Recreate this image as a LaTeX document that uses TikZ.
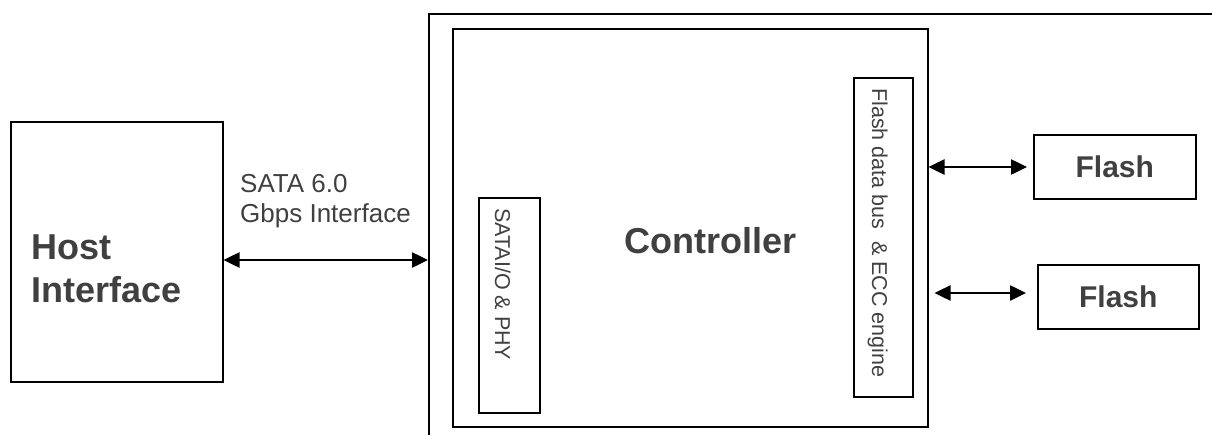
\documentclass[tikz,border=0pt]{standalone}
\usepackage{fontspec}
\setmainfont{Liberation Sans}
\usetikzlibrary{arrows.meta}
\definecolor{txtgray}{RGB}{64,64,64}
\tikzset{
  box/.style={draw=black, line width=1.5pt, rectangle, inner sep=0pt, anchor=north west},
  bigtxt/.style={text=txtgray, font=\fontsize{36}{43}\selectfont\bfseries, inner sep=0pt},
  flashtxt/.style={text=txtgray, font=\fontsize{30}{36}\selectfont\bfseries, inner sep=0pt},
  vtxt/.style={text=txtgray, font=\fontsize{21.5}{26}\selectfont, inner sep=0pt, rotate=-90, anchor=base west},
  lbltxt/.style={text=txtgray, font=\fontsize{26}{30}\selectfont, inner sep=0pt, align=left},
  arr/.style={line width=2.5pt, {Triangle[length=16pt,width=15pt]}-{Triangle[length=16pt,width=15pt]}}
}
\begin{document}
\begin{tikzpicture}[x=1pt,y=-1pt]
\useasboundingbox (0,0) rectangle (1212,434);
% outer enclosure (cut by the page)
\node[box, line width=2pt, minimum width=802pt, minimum height=440pt] (outer) at (428,13) {};
% controller
\node[box, minimum width=475pt, minimum height=398pt] (ctrl) at (452,28) {};
\node[bigtxt, anchor=base] (ctrltxt) at (710.5,253) {Controller};
% SATA I/O box
\node[box, minimum width=61pt, minimum height=215pt] (sataio) at (478,197) {};
\node[vtxt] (sataiotxt) at (495,208) {SATAI/O \& PHY};
% Flash bus box
\node[box, minimum width=59pt, minimum height=319pt] (fbus) at (853,77) {};
\node[vtxt] (fbustxt) at (872,88) {Flash data bus\ \ \& ECC engine};
% host
\node[box, minimum width=212pt, minimum height=260pt] (host) at (10,121) {};
\node[bigtxt, anchor=base west, align=left] (hosttxt) at (31,302) {Host\\Interface};
% flash chips
\node[box, minimum width=162pt, minimum height=64pt] (flash1) at (1033,134) {};
\node[flashtxt] at (flash1.center) {Flash};
\node[box, minimum width=161pt, minimum height=64pt] (flash2) at (1037,264) {};
\node[flashtxt] at (flash2.center) {Flash};
% SATA label
\node[lbltxt, anchor=base west] (satalbl) at (240,222) {SATA 6.0\\Gbps Interface};
% connectors
\draw[arr] (host.east |- 0,260) -- (outer.west |- 0,260);
\draw[arr] (ctrl.east |- 0,167) -- ([xshift=-6pt]flash1.west |- 0,167);
\draw[arr] ([xshift=6pt]ctrl.east |- 0,293) -- ([xshift=-11pt]flash2.west |- 0,293);
\end{tikzpicture}
\end{document}
